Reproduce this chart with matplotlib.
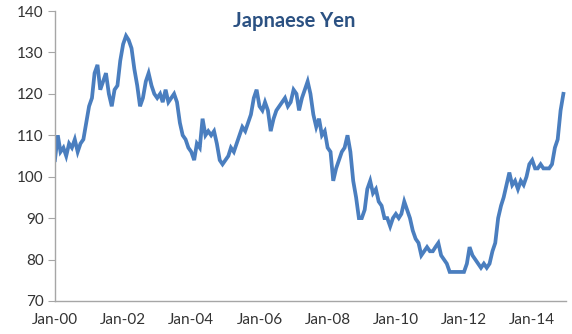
import numpy as np
import pandas as pd
import matplotlib
matplotlib.use("Agg")
import matplotlib.pyplot as plt
import matplotlib.dates as mdates

# monthly USD/JPY levels, Jan 2000 .. Dec 2014
yen_2000 = [104, 110, 106, 107, 105, 108, 107, 109, 106, 108, 109, 113]
yen_2001 = [117, 119, 125, 127, 121, 123, 125, 120, 117, 121, 122, 128]
yen_2002 = [132, 134, 133, 131, 126, 122, 117, 119, 123, 125, 122, 120]
yen_2003 = [119, 120, 118, 121, 118, 119, 120, 118, 113, 110, 109, 107]
yen_2004 = [106, 104, 108, 107, 114, 110, 111, 110, 111, 108, 104, 103]
yen_2005 = [104, 105, 107, 106, 108, 110, 112, 111, 113, 115, 119, 121]
yen_2006 = [117, 116, 118, 116, 111, 114, 116, 117, 118, 119, 117, 118]
yen_2007 = [121, 120, 116, 119, 121, 123, 120, 115, 112, 114, 110, 111]
yen_2008 = [107, 106, 99, 102, 104, 106, 107, 110, 106, 99, 95, 90]
yen_2009 = [90, 92, 97, 99, 96, 97, 94, 93, 90, 90, 88, 90]
yen_2010 = [91, 90, 91, 94, 92, 90, 87, 85, 84, 81, 82, 83]
yen_2011 = [82, 82, 83, 84, 81, 80, 79, 77, 77, 77, 77, 77]
yen_2012 = [77, 79, 83, 81, 80, 79, 78, 79, 78, 79, 82, 84]
yen_2013 = [90, 93, 95, 98, 101, 98, 99, 97, 99, 98, 100, 103]
yen_2014 = [104, 102, 102, 103, 102, 102, 102, 103, 107, 109, 116, 120]

values = (yen_2000 + yen_2001 + yen_2002 + yen_2003 + yen_2004 + yen_2005 +
          yen_2006 + yen_2007 + yen_2008 + yen_2009 + yen_2010 + yen_2011 +
          yen_2012 + yen_2013 + yen_2014)
dates = pd.date_range("2000-01-01", periods=len(values), freq="MS")

tick_years = [2000, 2002, 2004, 2006, 2008, 2010, 2012, 2014]
y_ticks = [70, 80, 90, 100, 110, 120, 130, 140]

plt.rcParams["font.family"] = ["Lato", "DejaVu Sans"]

fig = plt.figure(figsize=(5.72, 3.34), dpi=100)
ax = fig.add_axes([0.096, 0.099, 0.894, 0.868])

ax.plot(dates, values, color="#4A7EBF", linewidth=2.7, solid_joinstyle="miter")

ax.set_xlim(pd.Timestamp("2000-01-01"), pd.Timestamp("2015-01-01"))
ax.set_ylim(70, 140)
ax.set_yticks(y_ticks)
ax.set_xticks([pd.Timestamp(f"{y}-01-01") for y in tick_years])
ax.xaxis.set_major_formatter(mdates.DateFormatter("%b-%y"))

for s in ["top", "right"]:
    ax.spines[s].set_visible(False)
for s in ["left", "bottom"]:
    ax.spines[s].set_color("#A6A6A6")
    ax.spines[s].set_linewidth(1.0)

ax.tick_params(axis="y", length=5, color="#A6A6A6", labelsize=11, labelcolor="#333333", pad=3)
ax.tick_params(axis="x", length=0, labelsize=11, labelcolor="#333333", pad=9)

fig.text(0.514, 0.937, "Japnaese Yen", ha="center", va="center",
         fontsize=14.5, fontweight="bold", color="#2B5182")

fig.savefig("out.png", dpi=100)
